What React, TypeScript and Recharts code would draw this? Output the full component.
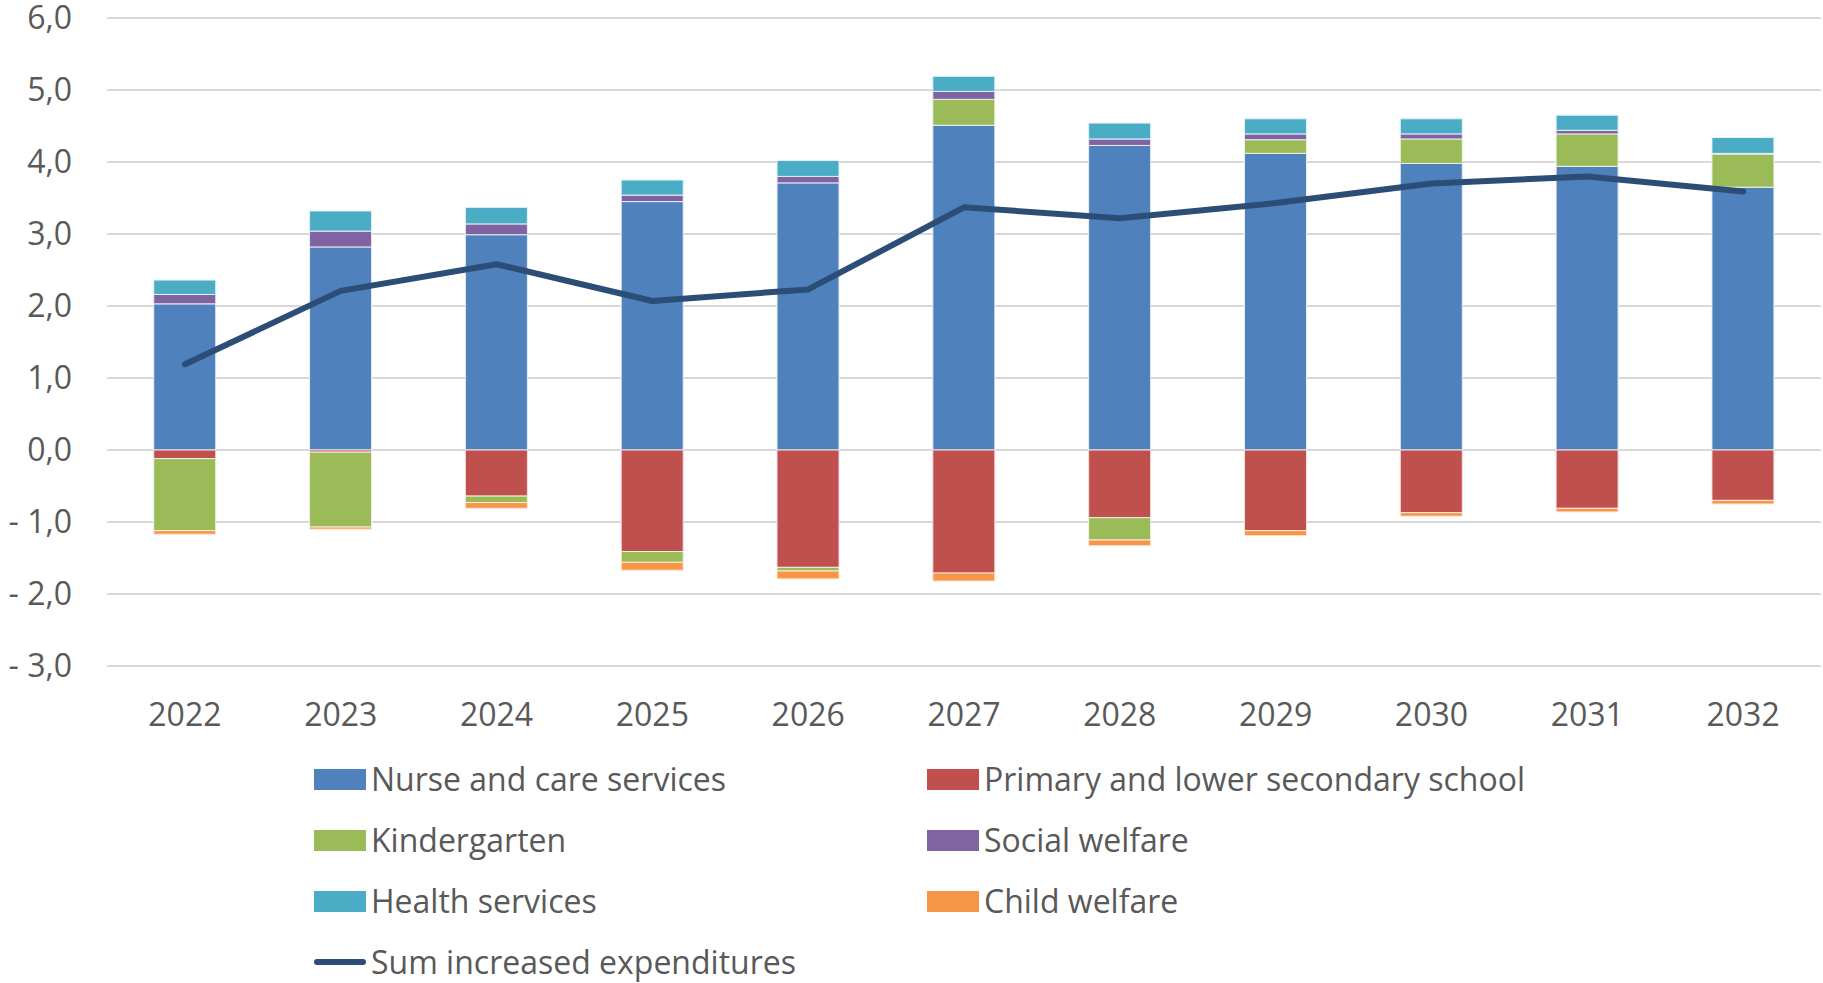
import { ComposedChart, Bar, Line, XAxis, YAxis, CartesianGrid, Legend } from 'recharts';

const years = ['2022', '2023', '2024', '2025', '2026', '2027', '2028', '2029', '2030', '2031', '2032'];
const nurse = [2.03, 2.82, 2.99, 3.45, 3.71, 4.51, 4.23, 4.12, 3.98, 3.94, 3.65];
const primary = [-0.12, -0.03, -0.64, -1.41, -1.63, -1.71, -0.94, -1.12, -0.87, -0.81, -0.7];
const kindergarten = [-1.0, -1.04, -0.09, -0.15, -0.05, 0.36, -0.31, 0.19, 0.34, 0.45, 0.46];
const social = [0.13, 0.22, 0.15, 0.09, 0.09, 0.11, 0.09, 0.08, 0.07, 0.05, 0.01];
const health = [0.2, 0.28, 0.23, 0.21, 0.22, 0.21, 0.22, 0.21, 0.21, 0.21, 0.22];
const child = [-0.05, -0.03, -0.08, -0.11, -0.11, -0.11, -0.08, -0.07, -0.05, -0.05, -0.05];
const sumIncreased = [1.19, 2.21, 2.58, 2.07, 2.23, 3.37, 3.22, 3.43, 3.7, 3.8, 3.59];
const yTicks = [-3, -2, -1, 0, 1, 2, 3, 4, 5, 6];

const data = years.map((year, i) => ({
  year,
  nurse: nurse[i],
  primary: primary[i],
  kindergarten: kindergarten[i],
  social: social[i],
  health: health[i],
  child: child[i],
  sum: sumIncreased[i],
}));

const FONT = '"Open Sans", sans-serif';
const TEXT = '#595959';

const legendItems = [
  { name: 'Nurse and care services', color: '#4F81BD', col: 0, row: 0 },
  { name: 'Primary and lower secondary school', color: '#C0504D', col: 1, row: 0 },
  { name: 'Kindergarten', color: '#9BBB59', col: 0, row: 1 },
  { name: 'Social welfare', color: '#8064A2', col: 1, row: 1 },
  { name: 'Health services', color: '#4BACC6', col: 0, row: 2 },
  { name: 'Child welfare', color: '#F79646', col: 1, row: 2 },
  { name: 'Sum increased expenditures', color: '#2C4D75', col: 0, row: 3, line: true },
];

const fmt = (v: number) => (v < 0 ? '- ' : '') + Math.abs(v).toFixed(1).replace('.', ',');

function ChartLegend() {
  return (
    <div style={{ position: 'relative', width: 1823, height: 240, fontFamily: FONT, fontSize: 32, color: TEXT }}>
      {legendItems.map((item) => (
        <div
          key={item.name}
          style={{
            position: 'absolute',
            left: item.col === 0 ? 314 : 927,
            top: 36 + item.row * 61 - 24,
            height: 48,
            lineHeight: '48px',
            display: 'flex',
            alignItems: 'center',
            whiteSpace: 'nowrap',
          }}
        >
          {item.line ? (
            <span style={{ width: 52, height: 6, borderRadius: 3, background: item.color, display: 'inline-block' }} />
          ) : (
            <span style={{ width: 52, height: 21, background: item.color, display: 'inline-block' }} />
          )}
          <span style={{ marginLeft: 5 }}>{item.name}</span>
        </div>
      ))}
    </div>
  );
}

export default function App() {
  return (
    <div style={{ position: 'absolute', left: 0, top: 0, width: 1823, height: 983, background: '#fff' }}>
      <ComposedChart
        width={1823}
        height={983}
        data={data}
        stackOffset="sign"
        barCategoryGap="30%"
        margin={{ top: 18, right: 2, bottom: 0, left: 0 }}
      >
        <CartesianGrid vertical={false} stroke="#D9D9D9" strokeWidth={2} />
        <XAxis
          dataKey="year"
          axisLine={false}
          tickLine={false}
          tickSize={0}
          tickMargin={37}
          height={77}
          tick={{ fill: TEXT, fontSize: 32, fontFamily: FONT }}
        />
        <YAxis
          domain={[-3, 6]}
          ticks={yTicks}
          interval={0}
          axisLine={false}
          tickLine={false}
          tickSize={0}
          tickMargin={35}
          width={107}
          tickFormatter={fmt}
          tick={{ fill: TEXT, fontSize: 32, fontFamily: FONT }}
        />
        <Legend verticalAlign="bottom" content={() => <ChartLegend />} wrapperStyle={{ left: 0, bottom: 0, width: 1823 }} />
        <Bar dataKey="nurse" name="Nurse and care services" stackId="a" fill="#4F81BD" stroke="#E8EEF7" strokeWidth={1} isAnimationActive={false} />
        <Bar dataKey="primary" name="Primary and lower secondary school" stackId="a" fill="#C0504D" stroke="#F5E1E0" strokeWidth={1} isAnimationActive={false} />
        <Bar dataKey="kindergarten" name="Kindergarten" stackId="a" fill="#9BBB59" stroke="#EEF3E3" strokeWidth={1} isAnimationActive={false} />
        <Bar dataKey="social" name="Social welfare" stackId="a" fill="#8064A2" stroke="#ECE7F2" strokeWidth={1} isAnimationActive={false} />
        <Bar dataKey="health" name="Health services" stackId="a" fill="#4BACC6" stroke="#E3F2F6" strokeWidth={1} isAnimationActive={false} />
        <Bar dataKey="child" name="Child welfare" stackId="a" fill="#F79646" stroke="#FDEBDD" strokeWidth={1} isAnimationActive={false} />
        <Line
          dataKey="sum"
          name="Sum increased expenditures"
          type="linear"
          stroke="#2C4D75"
          strokeWidth={6}
          strokeLinecap="round"
          strokeLinejoin="round"
          dot={false}
          activeDot={false}
          isAnimationActive={false}
        />
      </ComposedChart>
    </div>
  );
}
